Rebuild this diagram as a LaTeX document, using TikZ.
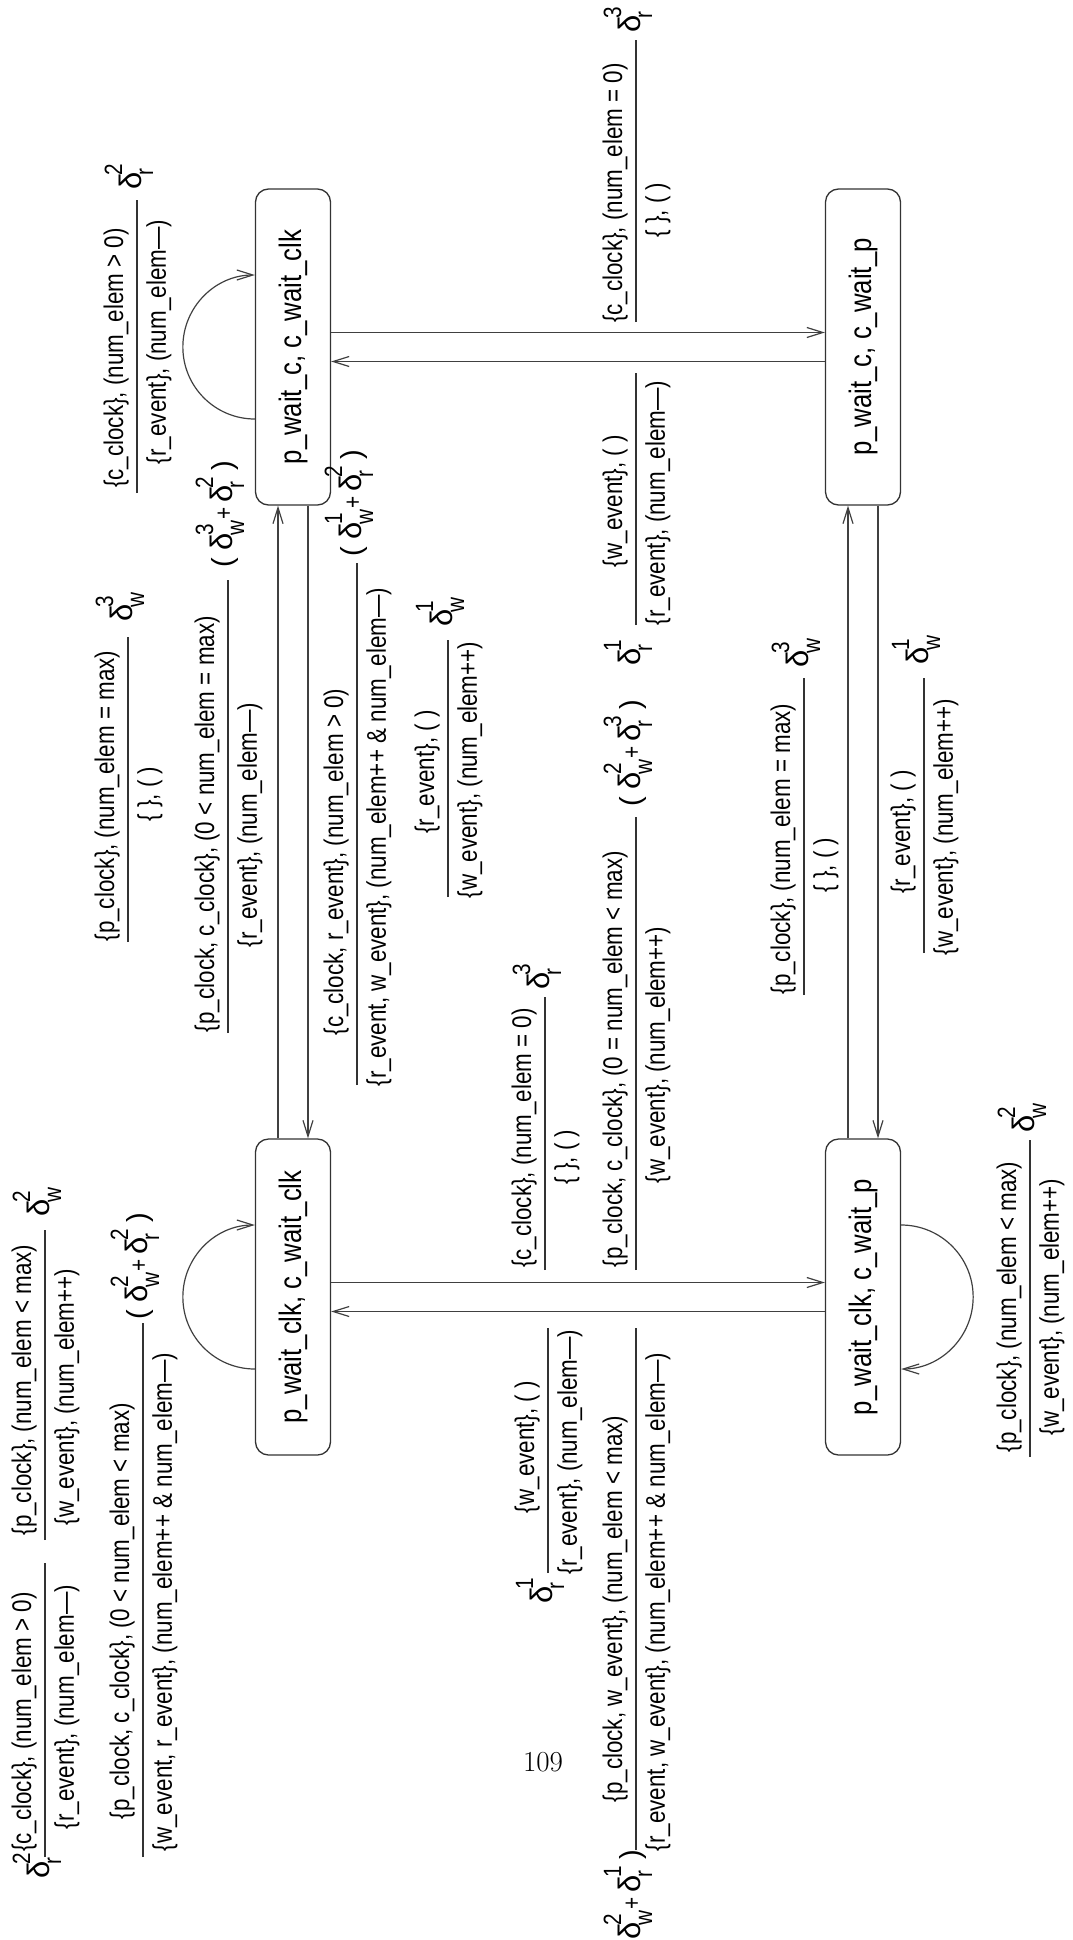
\documentclass[tikz,border=0pt]{standalone}
\usepackage{fontspec}
\setmainfont[FakeStretch=0.83]{Liberation Sans}
\newfontfamily\grkfont{Liberation Sans}
\newfontfamily\pagefont{Latin Modern Roman}
\usetikzlibrary{arrows.meta}

% font sizes
\newcommand\lblsize{\fontsize{27}{30}\selectfont}
\newcommand\scrsize{\fontsize{25}{27}\selectfont}
\newcommand\boxsize{\fontsize{31}{34}\selectfont}
% delta with stacked superscript / subscript
\newcommand\Dsym{{\fontsize{31}{34}\selectfont\grkfont δ}}
\newcommand\Dlt[2]{\Dsym\kern-3pt\rlap{\raisebox{19pt}{\scrsize #1}}\raisebox{-12pt}{\scrsize #2}}
\newcommand\Plus{\kern1pt{\scrsize +}\kern5pt}
\newcommand\Lpar{{\fontsize{29}{32}\selectfont\grkfont(}\kern8pt}
\newcommand\Rpar{\kern11pt{\fontsize{29}{32}\selectfont\grkfont)}}

\tikzset{
  state/.style={draw=black!80, line width=1.3pt, rounded corners=13pt,
    minimum width=316pt, minimum height=75pt, inner sep=0pt, font=\boxsize},
  conn/.style={draw=black!75, line width=1.2pt,
    -{Straight Barb[length=16pt,width=10pt]}},
  rulel/.style={draw=black!80, line width=1.2pt},
  lbltop/.style={anchor=south, inner sep=0pt, font=\lblsize},
  lblbot/.style={anchor=north, inner sep=0pt, font=\lblsize},
  dexpr/.style={inner sep=0pt, font=\lblsize},
}

% transition label: name, rule level, rule start, rule end,
% centre of upper text, centre of lower text, upper text, lower text
\newcommand\flab[8]{%
  \draw[rulel] (#3,#2) coordinate (#1a) -- (#4,#2) coordinate (#1b);
  \node[lbltop] (#1t) at (#5,#2+8) {#7};
  \node[lblbot] (#1u) at (#6,#2-9) {#8};
}

\begin{document}
\begin{tikzpicture}[x=1pt,y=1pt]
\useasboundingbox (0,0) rectangle (1073,-1940);
\node[font=\pagefont\fontsize{29}{32}\selectfont, inner sep=0pt] (pg) at (543,-1762) {109};

\begin{scope}[shift={(1073,-1940)}, rotate=90, transform shape]
  % states
  \node[state] (A) at (1593,780) {p\_wait\_c, c\_wait\_clk};
  \node[state] (B) at (643,780)  {p\_wait\_clk, c\_wait\_clk};
  \node[state] (C) at (1593,210) {p\_wait\_c, c\_wait\_p};
  \node[state] (D) at (643,210)  {p\_wait\_clk, c\_wait\_p};

  % transitions between states
  \draw[conn] ([yshift=15pt]B.east) -- ([yshift=15pt]A.west);
  \draw[conn] ([yshift=-15pt]A.west) -- ([yshift=-15pt]B.east);
  \draw[conn] ([yshift=15pt]D.east) -- ([yshift=15pt]C.west);
  \draw[conn] ([yshift=-15pt]C.west) -- ([yshift=-15pt]D.east);
  \draw[conn] ([xshift=14.5pt]A.south) -- ([xshift=14.5pt]C.north);
  \draw[conn] ([xshift=-14.5pt]C.north) -- ([xshift=-14.5pt]A.south);
  \draw[conn] ([xshift=14.5pt]B.south) -- ([xshift=14.5pt]D.north);
  \draw[conn] ([xshift=-14.5pt]D.north) -- ([xshift=-14.5pt]B.south);

  % self loops
  \draw[conn] ([xshift=-72pt]A.north) arc[start angle=180, end angle=0, radius=72pt];
  \draw[conn] ([xshift=-72pt]B.north) arc[start angle=180, end angle=0, radius=72pt];
  \draw[conn] ([xshift=72pt]D.south) arc[start angle=0, end angle=-180, radius=72pt];

  % loop on p_wait_c, c_wait_clk
  \flab{aa}{936}{1447}{1740}{1582}{1598}{\{c\_clock\}, (num\_elem > 0)}{\{r\_event\}, (num\_elem—)}
  \node[dexpr, anchor=base west] (aad) at (1750,932) {\Dlt{2}{r}};

  % p_wait_c, c_wait_clk <-> p_wait_c, c_wait_p
  \flab{ac}{437}{1618}{1900}{1747}{1730}{\{c\_clock\}, (num\_elem = 0)}{\{ \}, ( )}
  \node[dexpr, anchor=base west] (acd) at (1907,433) {\Dlt{3}{r}};
  \flab{ca}{437}{1315}{1567}{1439}{1437}{\{w\_event\}, ( )}{\{r\_event\}, (num\_elem—)}
  \node[dexpr, anchor=base east] (cad) at (1296,433) {\Dlt{1}{r}};

  % p_wait_clk, c_wait_clk <-> p_wait_c, c_wait_clk
  \flab{baa}{945}{998}{1303}{1144}{1146}{\{p\_clock\}, (num\_elem = max)}{\{ \}, ( )}
  \node[dexpr, anchor=base west] (baad) at (1318,941) {\Dlt{3}{w}};
  \flab{bab}{845}{907}{1360}{1116}{1115}{\{p\_clock, c\_clock\}, (0 < num\_elem = max)}{\{r\_event\}, (num\_elem—)}
  \node[dexpr, anchor=base west] (babd) at (1372,841) {\Lpar\Dlt{3}{w}\Plus\Dlt{2}{r}\Rpar};
  \flab{aba}{716}{855}{1377}{1078}{1103}{\{c\_clock, r\_event\}, (num\_elem > 0)}{\{r\_event, w\_event\}, (num\_elem++ \& num\_elem—)}
  \node[dexpr, anchor=base west] (abad) at (1383,712) {\Lpar\Dlt{1}{w}\Plus\Dlt{2}{r}\Rpar};
  \flab{abb}{625}{1043}{1300}{1168}{1170}{\{r\_event\}, ( )}{\{w\_event\}, (num\_elem++)}
  \node[dexpr, anchor=base west] (abbd) at (1313,621) {\Dlt{1}{w}};

  % p_wait_clk, c_wait_p <-> p_wait_c, c_wait_p
  \flab{dc}{269}{945}{1262}{1091}{1075}{\{p\_clock\}, (num\_elem = max)}{\{ \}, ( )}
  \node[dexpr, anchor=base west] (dcd) at (1272,265) {\Dlt{3}{w}};
  \flab{cd}{149}{987}{1262}{1108}{1113}{\{r\_event\}, ( )}{\{w\_event\}, (num\_elem++)}
  \node[dexpr, anchor=base west] (cdd) at (1275,145) {\Dlt{1}{w}};

  % p_wait_clk, c_wait_clk <-> p_wait_clk, c_wait_p
  \flab{bda}{528}{670}{943}{802}{783}{\{c\_clock\}, (num\_elem = 0)}{\{ \}, ( )}
  \node[dexpr, anchor=base west] (bdad) at (950,524) {\Dlt{3}{r}};
  \flab{bdb}{437}{670}{1123}{881}{885}{\{p\_clock, c\_clock\}, (0 = num\_elem < max)}{\{w\_event\}, (num\_elem++)}
  \node[dexpr, anchor=base west] (bdbd) at (1133,433) {\Lpar\Dlt{2}{w}\Plus\Dlt{3}{r}\Rpar};
  \flab{dba}{525}{367}{612}{493}{488}{\{w\_event\}, ( )}{\{r\_event\}, (num\_elem—)}
  \node[dexpr, anchor=base east] (dbad) at (358,521) {\Dlt{1}{r}};
  \flab{dbb}{437}{90}{612}{331}{338}{\{p\_clock, w\_event\}, (num\_elem < max)}{\{r\_event, w\_event\}, (num\_elem++ \& num\_elem—)}
  \node[dexpr, anchor=base east] (dbbd) at (90,433) {\Lpar\Dlt{2}{w}\Plus\Dlt{1}{r}\Rpar};

  % loop on p_wait_clk, c_wait_clk
  \flab{bla}{1028}{83}{377}{218}{233}{\{c\_clock\}, (num\_elem > 0)}{\{r\_event\}, (num\_elem—)}
  \node[dexpr, anchor=base east] (blad) at (83,1024) {\Dlt{2}{r}};
  \flab{blb}{1028}{400}{710}{550}{543}{\{p\_clock\}, (num\_elem < max)}{\{w\_event\}, (num\_elem++)}
  \node[dexpr, anchor=base west] (blbd) at (723,1024) {\Dlt{2}{w}};
  \flab{blc}{930}{83}{617}{329}{338}{\{p\_clock, c\_clock\}, (0 < num\_elem < max)}{\{w\_event, r\_event\}, (num\_elem++ \& num\_elem—)}
  \node[dexpr, anchor=base west] (blcd) at (620,926) {\Lpar\Dlt{2}{w}\Plus\Dlt{2}{r}\Rpar};

  % loop on p_wait_clk, c_wait_p
  \flab{dl}{43}{483}{800}{633}{633}{\{p\_clock\}, (num\_elem < max)}{\{w\_event\}, (num\_elem++)}
  \node[dexpr, anchor=base west] (dld) at (807,39) {\Dlt{2}{w}};
\end{scope}
\end{tikzpicture}
\end{document}
